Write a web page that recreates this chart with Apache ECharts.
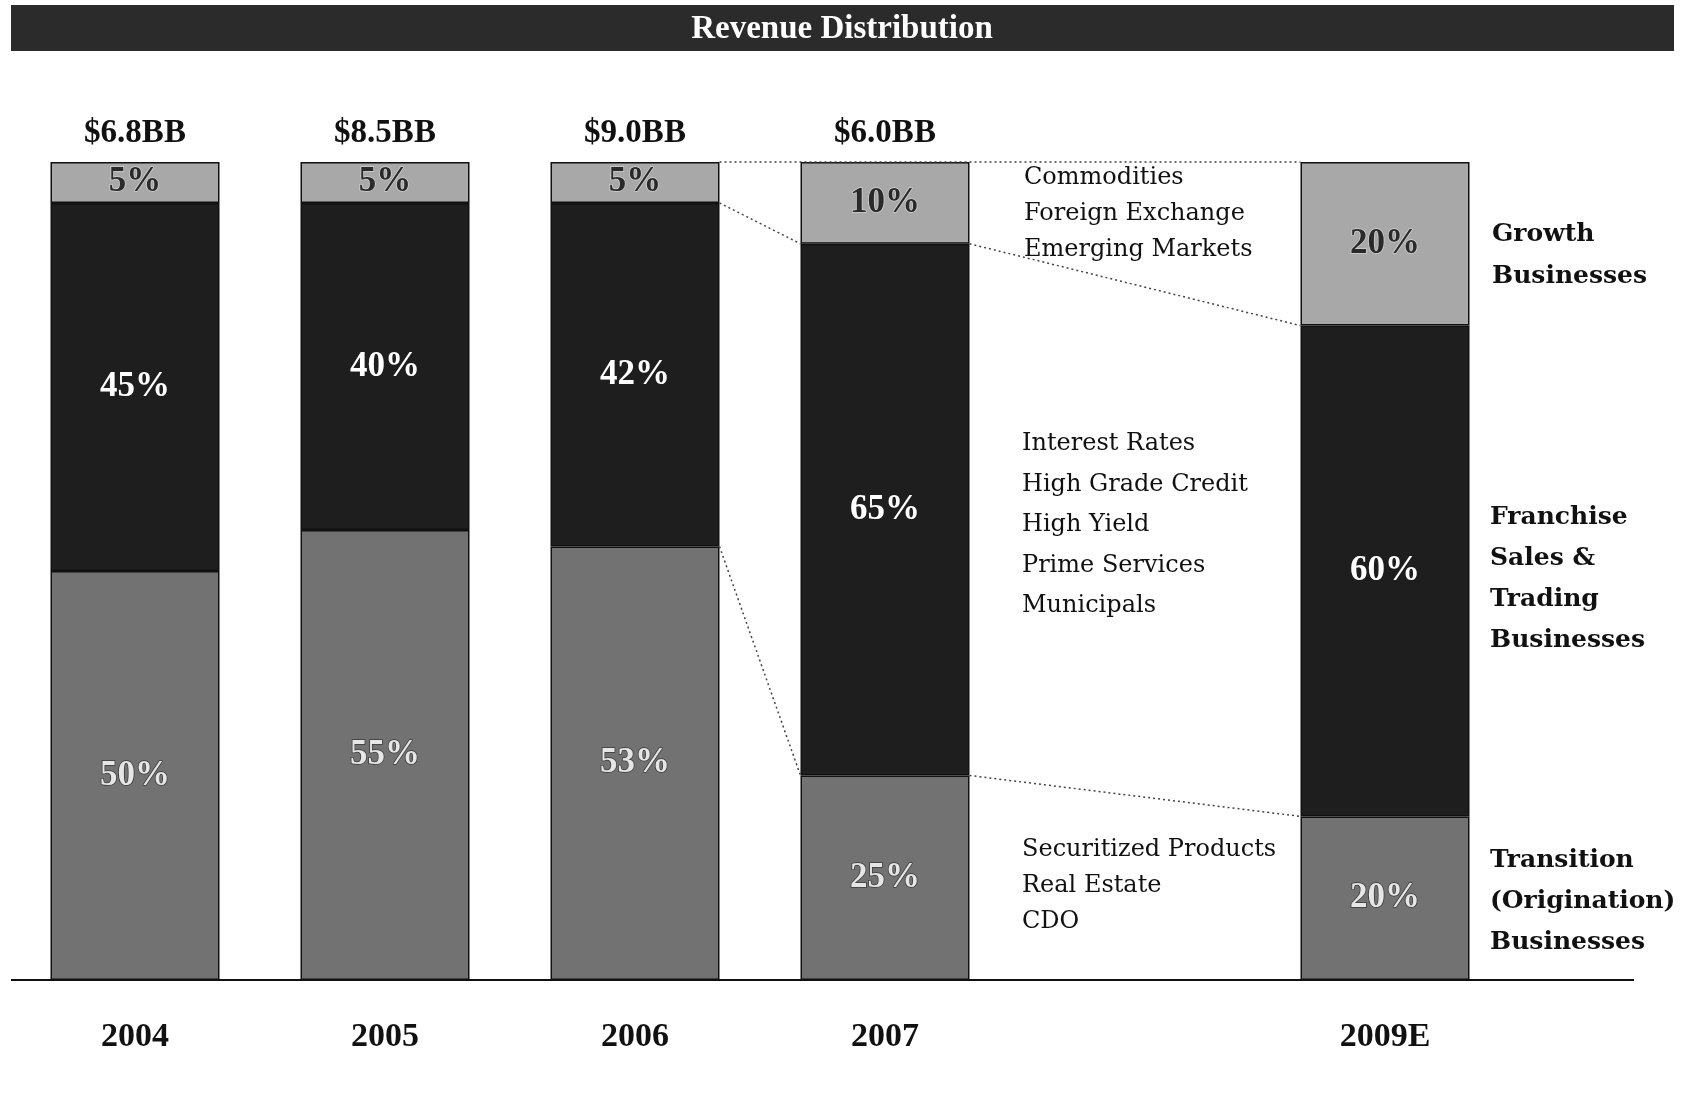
<!DOCTYPE html>
<html>
<head>
<meta charset="utf-8">
<title>Revenue Distribution</title>
<script src="https://cdn.jsdelivr.net/npm/echarts@6/dist/echarts.min.js"></script>
<style>
	html, body { margin: 0; padding: 0; background: #fff; }
	#main { width: 1691px; height: 1095px; }
</style>
</head>
<body>
<div id="main"></div>
<script>
// categories (empty slot keeps the gap before 2009E)
var years = ['2004', '2005', '2006', '2007', '', '2009E'];
// revenue totals in $BB, null where no label
var totals = [6.8, 8.5, 9.0, 6.0, null, null];
// shares in %, bottom to top
var transition = [50, 55, 53, 25, null, 20];
var franchise = [45, 40, 42, 65, null, 60];
var growth = [5, 5, 5, 10, null, 20];

var groupGrowth = ['Commodities', 'Foreign Exchange', 'Emerging Markets'];
var groupFranchise = ['Interest Rates', 'High Grade Credit', 'High Yield', 'Prime Services', 'Municipals'];
var groupTransition = ['Securitized Products', 'Real Estate', 'CDO'];

var COLOR_GROWTH = '#a8a8a8';
var COLOR_FRANCHISE = '#1e1e1e';
var COLOR_TRANSITION = '#727272';
var BAR_WIDTH = 169;
var SERIF = '"Liberation Serif", "Times New Roman", serif';
var BOOK = '"DejaVu Serif", serif';

var myChart = echarts.init(document.getElementById('main'));

function pctLabel(color, border) {
	return {
		show : true,
		position : 'inside',
		formatter : function(p) { return p.value == null ? '' : p.value + '%'; },
		fontFamily : SERIF,
		fontWeight : 'bold',
		fontSize : 35,
		color : color,
		textBorderColor : border,
		textBorderWidth : 1.5
	};
}

var option = {
	backgroundColor : '#fff',
	animation : false,
	grid : { left : 10, width : 1500, top : 162, bottom : 115 },
	xAxis : {
		type : 'category',
		data : years,
		axisLine : { show : false },
		axisTick : { show : false },
		axisLabel : {
			margin : 40,
			fontFamily : SERIF,
			fontWeight : 'bold',
			fontSize : 34,
			color : '#111'
		}
	},
	yAxis : { type : 'value', min : 0, max : 100, show : false },
	series : [ {
		name : 'Transition',
		type : 'bar',
		stack : 'rev',
		barWidth : BAR_WIDTH,
		data : transition,
		itemStyle : { color : COLOR_TRANSITION, borderColor : '#111', borderWidth : 1.5 },
		label : pctLabel('#e6e6e6', '#3a3a3a')
	}, {
		name : 'Franchise',
		type : 'bar',
		stack : 'rev',
		barWidth : BAR_WIDTH,
		data : franchise,
		itemStyle : { color : COLOR_FRANCHISE, borderColor : '#111', borderWidth : 1.5 },
		label : pctLabel('#ffffff', '#1e1e1e')
	}, {
		name : 'Growth',
		type : 'bar',
		stack : 'rev',
		barWidth : BAR_WIDTH,
		data : growth,
		itemStyle : { color : COLOR_GROWTH, borderColor : '#111', borderWidth : 1.5 },
		label : pctLabel('#2a2a2a', '#d0d0d0')
	}, {
		// invisible carrier for the $BB totals above each bar
		name : 'Total',
		type : 'bar',
		stack : 'rev',
		barWidth : BAR_WIDTH,
		data : totals.map(function(t) { return t == null ? null : 0; }),
		itemStyle : { color : 'transparent' },
		label : {
			show : true,
			position : 'top',
			distance : 12,
			formatter : function(p) {
				var t = totals[p.dataIndex];
				return t == null ? '' : '$' + t.toFixed(1) + 'BB';
			},
			fontFamily : SERIF,
			fontWeight : 'bold',
			fontSize : 33,
			color : '#111'
		}
	} ]
};
myChart.setOption(option);

// dotted connectors between the 2006, 2007 and 2009E segment edges
function edge(idx, value, side) {
	var p = myChart.convertToPixel({ gridIndex : 0 }, [idx, value]);
	return [p[0] + side * BAR_WIDTH / 2, p[1]];
}
function cum(idx, level) {
	var s = [transition, franchise, growth];
	var v = 0;
	for (var i = 0; i < level; i++) v += s[i][idx];
	return v;
}
var links = [
	[edge(2, 100, 1), edge(5, 100, -1)],
	[edge(2, cum(2, 2), 1), edge(3, cum(3, 2), -1)],
	[edge(3, cum(3, 2), 1), edge(5, cum(5, 2), -1)],
	[edge(2, cum(2, 1), 1), edge(3, cum(3, 1), -1)],
	[edge(3, cum(3, 1), 1), edge(5, cum(5, 1), -1)]
];

var graphics = [];
// title bar
graphics.push({
	type : 'rect',
	shape : { x : 11, y : 5, width : 1663, height : 46 },
	style : { fill : '#2b2b2b' }
});
graphics.push({
	type : 'text',
	x : 842, y : 29,
	style : {
		text : 'Revenue Distribution',
		fill : '#fff',
		font : 'bold 33px ' + SERIF,
		textAlign : 'center',
		textVerticalAlign : 'middle'
	}
});
// baseline
graphics.push({
	type : 'line',
	shape : { x1 : 11, y1 : 980, x2 : 1634, y2 : 980 },
	style : { stroke : '#111', lineWidth : 2 }
});
links.forEach(function(l) {
	graphics.push({
		type : 'line',
		shape : { x1 : l[0][0], y1 : l[0][1], x2 : l[1][0], y2 : l[1][1] },
		style : { stroke : '#444', lineWidth : 1.5, lineDash : [2, 3] },
		z : 10
	});
});

function textBlock(lines, x, y0, step, font) {
	lines.forEach(function(t, i) {
		graphics.push({
			type : 'text',
			x : x, y : y0 + i * step,
			style : { text : t, fill : '#111', font : font, textVerticalAlign : 'middle' }
		});
	});
}
textBlock(groupGrowth, 1024, 178, 36, '24px ' + BOOK);
textBlock(groupFranchise, 1022, 444, 40.5, '24px ' + BOOK);
textBlock(groupTransition, 1022, 850, 36, '24px ' + BOOK);
textBlock(['Growth', 'Businesses'], 1492, 234, 42, 'bold 25px ' + BOOK);
textBlock(['Franchise', 'Sales &', 'Trading', 'Businesses'], 1490, 517, 41, 'bold 25px ' + BOOK);
textBlock(['Transition', '(Origination)', 'Businesses'], 1490, 860, 41, 'bold 25px ' + BOOK);

myChart.setOption({ graphic : graphics });
</script>
</body>
</html>
